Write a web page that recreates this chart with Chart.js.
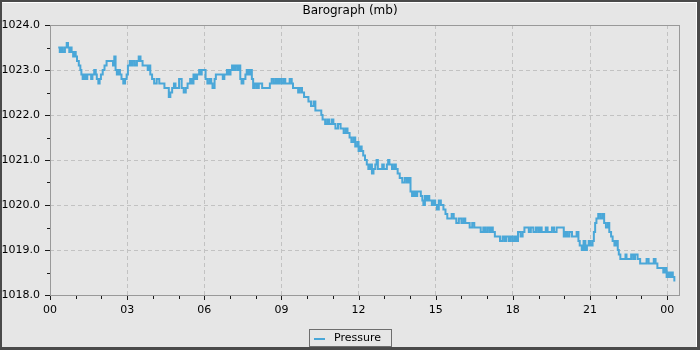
<!DOCTYPE html>
<html>
<head>
<meta charset="utf-8">
<script src="https://cdn.jsdelivr.net/npm/chart.js@4/dist/chart.umd.min.js"></script>
<style>
  html, body { margin: 0; padding: 0; background: #e6e6e6; }
  #wrap { position: relative; width: 700px; height: 350px; background: #e6e6e6; overflow: hidden; }
  #c { position: absolute; left: 0; top: 0; }
  #frame { position: absolute; left: 0; top: 0; width: 700px; height: 350px; box-sizing: border-box;
           border-style: solid; border-color: #4a4a4a; border-width: 2px 3px 3px 2px;
           box-shadow: inset 0 1px 0 #ffffff, inset -1px 0 0 #ffffff; pointer-events: none; }
  #legend { position: absolute; left: 309px; top: 329px; width: 83px; height: 18px; box-sizing: border-box;
            border: 1px solid #6e6e6e; font-family: "DejaVu Sans"; font-size: 11px; color: #000; }
  #legend .swatch { position: absolute; left: 4px; top: 8px; width: 11px; height: 2px; background: #4aa7d8; }
  #legend .lbl { position: absolute; left: 24px; top: 0; line-height: 16px; }
</style>
</head>
<body>
<div id="wrap">
  <canvas id="c" width="700" height="350"></canvas>
  <div id="legend"><span class="swatch"></span><span class="lbl">Pressure</span></div>
  <div id="frame"></div>
</div>
<script>
// ---- data (hours since 00, pressure in mb) ----
const hours = [
0.32,0.38,0.45,0.5,0.58,0.65,0.7,0.75,0.8,0.84,0.9,0.95,1.0,1.05,1.12,1.18,1.22,1.27,1.32,1.38,1.45,1.55,1.6,1.65,1.72,1.78,1.82,1.88,1.93,1.98,
2.05,2.12,2.2,2.35,2.45,2.5,2.55,2.6,2.65,2.72,2.78,2.85,2.92,2.98,3.03,3.1,3.15,3.22,3.3,3.38,3.45,3.52,3.6,3.7,3.8,3.85,3.9,3.97,
4.05,4.15,4.25,4.35,4.45,4.55,4.62,4.68,4.75,4.82,4.88,4.95,5.02,5.12,5.2,5.28,5.35,5.45,5.52,5.58,5.65,5.72,5.8,5.85,5.9,5.98,
6.05,6.12,6.2,6.27,6.32,6.4,6.45,6.55,6.65,6.72,6.78,6.88,6.95,7.02,7.08,7.15,7.22,7.3,7.35,7.4,7.45,7.52,7.6,7.65,7.72,7.78,7.85,7.9,7.97,
8.05,8.12,8.2,8.25,8.32,8.4,8.5,8.55,8.62,8.7,8.78,8.85,8.92,9.0,9.08,9.15,9.25,9.32,9.4,9.45,9.55,9.65,9.72,9.8,9.88,9.97,
10.05,10.15,10.25,10.32,10.45,10.55,10.6,10.7,10.78,10.85,10.95,11.02,11.1,11.2,11.3,11.42,11.5,11.57,11.65,11.72,11.8,11.87,11.95,
12.0,12.05,12.12,12.18,12.25,12.32,12.38,12.45,12.52,12.58,12.65,12.7,12.75,12.85,12.92,12.98,13.05,13.1,13.15,13.2,13.3,13.38,13.45,13.52,13.6,13.7,13.8,13.88,13.95,
14.02,14.08,14.15,14.22,14.28,14.35,14.42,14.48,14.52,14.58,14.62,14.68,14.75,14.85,14.92,14.98,15.05,15.12,15.2,15.3,15.38,15.45,15.55,15.62,15.7,15.8,15.9,
16.0,16.08,16.15,16.25,16.32,16.42,16.5,16.6,16.68,16.75,16.85,16.92,17.0,17.08,17.15,17.22,17.3,17.4,17.5,17.6,17.68,17.75,17.85,17.92,
18.0,18.08,18.15,18.2,18.3,18.38,18.45,18.55,18.62,18.7,18.8,18.9,18.98,19.05,19.12,19.2,19.28,19.35,19.45,19.52,19.6,19.7,19.8,19.9,19.98,
20.05,20.12,20.2,20.3,20.4,20.48,20.55,20.6,20.68,20.75,20.82,20.88,20.95,21.02,21.1,21.15,21.2,21.25,21.32,21.4,21.48,21.55,21.62,21.7,21.75,21.82,21.88,21.95,
22.02,22.08,22.12,22.18,22.3,22.38,22.42,22.5,22.6,22.68,22.75,22.85,22.95,23.1,23.2,23.28,23.4,23.48,23.55,23.62,23.75,23.85,23.92,23.98,
24.05,24.12,24.18,24.22,24.28
];
const pressure = [
1023.5,1023.4,1023.5,1023.4,1023.5,1023.6,1023.5,1023.4,1023.5,1023.4,1023.3,1023.4,1023.3,1023.2,1023.1,1023.0,1022.9,1022.8,1022.9,1022.8,1022.9,1022.9,1022.8,1022.9,1023.0,1022.9,1022.8,1022.7,1022.8,1022.9,
1023.0,1023.1,1023.2,1023.2,1023.1,1023.3,1023.0,1022.9,1023.0,1022.9,1022.8,1022.7,1022.8,1022.9,1023.1,1023.2,1023.1,1023.2,1023.1,1023.2,1023.3,1023.2,1023.1,1023.1,1023.0,1023.1,1022.9,1022.8,
1022.7,1022.8,1022.7,1022.7,1022.6,1022.6,1022.4,1022.5,1022.6,1022.7,1022.6,1022.6,1022.8,1022.6,1022.5,1022.6,1022.7,1022.8,1022.7,1022.9,1022.8,1022.9,1023.0,1022.9,1023.0,1023.0,
1022.8,1022.7,1022.8,1022.7,1022.6,1022.8,1022.9,1022.9,1022.9,1022.8,1022.9,1023.0,1022.9,1023.0,1023.1,1023.0,1023.1,1023.0,1023.1,1022.8,1022.7,1022.8,1022.9,1023.0,1022.9,1023.0,1022.8,1022.6,1022.7,
1022.6,1022.7,1022.7,1022.6,1022.6,1022.6,1022.6,1022.7,1022.8,1022.7,1022.8,1022.7,1022.8,1022.7,1022.8,1022.7,1022.7,1022.8,1022.7,1022.6,1022.6,1022.5,1022.6,1022.5,1022.4,1022.4,
1022.3,1022.2,1022.3,1022.1,1022.1,1022.0,1021.9,1021.8,1021.9,1021.8,1021.9,1021.8,1021.7,1021.8,1021.7,1021.6,1021.7,1021.6,1021.5,1021.4,1021.5,1021.3,1021.4,
1021.2,1021.3,1021.2,1021.1,1021.0,1020.9,1020.8,1020.9,1020.7,1020.8,1020.9,1021.0,1020.8,1020.8,1020.9,1020.8,1020.8,1020.9,1021.0,1020.9,1020.8,1020.9,1020.8,1020.7,1020.6,1020.5,1020.6,1020.5,1020.6,
1020.3,1020.2,1020.3,1020.2,1020.3,1020.3,1020.2,1020.1,1020.0,1020.2,1020.1,1020.2,1020.1,1020.0,1020.1,1020.0,1019.9,1020.1,1020.0,1019.9,1019.8,1019.7,1019.7,1019.8,1019.7,1019.6,1019.7,
1019.6,1019.7,1019.6,1019.6,1019.5,1019.6,1019.5,1019.5,1019.5,1019.4,1019.5,1019.4,1019.5,1019.4,1019.5,1019.4,1019.3,1019.3,1019.2,1019.3,1019.2,1019.3,1019.2,1019.3,
1019.2,1019.3,1019.2,1019.4,1019.3,1019.4,1019.5,1019.5,1019.4,1019.5,1019.4,1019.5,1019.4,1019.5,1019.4,1019.4,1019.5,1019.4,1019.4,1019.5,1019.4,1019.5,1019.5,1019.5,1019.3,
1019.4,1019.3,1019.4,1019.3,1019.3,1019.4,1019.2,1019.1,1019.0,1019.2,1019.0,1019.1,1019.2,1019.1,1019.2,1019.4,1019.6,1019.7,1019.8,1019.7,1019.8,1019.6,1019.5,1019.6,1019.4,1019.3,1019.2,1019.1,
1019.2,1019.0,1018.9,1018.8,1018.8,1018.9,1018.8,1018.8,1018.9,1018.8,1018.9,1018.8,1018.7,1018.7,1018.8,1018.7,1018.7,1018.8,1018.7,1018.6,1018.6,1018.5,1018.6,1018.4,
1018.5,1018.4,1018.5,1018.4,1018.3
];
const hourTicks = [0,1,2,3,4,5,6,7,8,9,10,11,12,13,14,15,16,17,18,19,20,21,22,23,24];
const pressureTicks = [1018,1018.5,1019,1019.5,1020,1020.5,1021,1021.5,1022,1022.5,1023,1023.5,1024];
const seriesName = 'Pressure';
const chartTitle = 'Barograph (mb)';

const LINE = '#4aa7d8';
const FONT = { family: 'DejaVu Sans', size: 11 };

const decor = {
  id: 'decor',
  beforeDatasetsDraw(chart) {
    const { ctx, chartArea: a, scales } = chart;
    ctx.save();
    ctx.strokeStyle = '#999999';
    ctx.lineWidth = 1;
    ctx.strokeRect(Math.round(a.left) + 0.5, Math.round(a.top) + 0.5,
                   Math.round(a.right - a.left) - 1, Math.round(a.bottom - a.top));
    ctx.strokeStyle = '#1a1a1a';
    ctx.beginPath();
    scales.x.ticks.forEach(t => {
      const px = Math.round(scales.x.getPixelForValue(t.value)) + 0.5;
      const len = t.value % 3 === 0 ? 4 : 3;
      ctx.moveTo(px, a.bottom + 1);
      ctx.lineTo(px, a.bottom + 1 + len);
    });
    scales.y.ticks.forEach(t => {
      const py = Math.round(scales.y.getPixelForValue(t.value)) + 0.5;
      const len = Number.isInteger(t.value) ? 5 : 3;
      ctx.moveTo(a.left, py);
      ctx.lineTo(a.left - len, py);
    });
    ctx.stroke();
    ctx.restore();
  }
};

new Chart(document.getElementById('c'), {
  type: 'line',
  data: {
    datasets: [{
      label: seriesName,
      data: hours.map((h, i) => ({ x: h, y: pressure[i] })),
      borderColor: LINE,
      backgroundColor: LINE,
      borderWidth: 2,
      pointRadius: 0,
      stepped: true,
      fill: false
    }]
  },
  options: {
    responsive: false,
    animation: false,
    events: [],
    layout: { padding: { left: 0, right: 0, top: 0, bottom: 0 } },
    plugins: {
      legend: { display: false },
      tooltip: { enabled: false },
      title: {
        display: true,
        text: chartTitle,
        color: '#000',
        font: { family: 'DejaVu Sans', size: 12, weight: 'normal' },
        padding: { top: 4, bottom: 6.6 }
      }
    },
    scales: {
      x: {
        type: 'linear',
        min: 0,
        max: 24.5,
        afterBuildTicks: s => { s.ticks = hourTicks.map(v => ({ value: v })); },
        afterFit: s => { s.height = 55; },
        ticks: {
          autoSkip: false,
          maxRotation: 0,
          color: '#000',
          font: FONT,
          padding: 9,
          callback: v => (v % 3 === 0 ? String(v % 24).padStart(2, '0') : '')
        },
        grid: {
          drawTicks: false,
          lineWidth: 1,
          color: c => (c.tick && c.tick.value % 3 === 0 && c.tick.value > 0) ? '#c2c2c2' : 'rgba(0,0,0,0)'
        },
        border: { display: false, dash: [4, 3] }
      },
      y: {
        min: 1018,
        max: 1024,
        afterBuildTicks: s => { s.ticks = pressureTicks.map(v => ({ value: v })); },
        afterFit: s => { s.width = 50; },
        ticks: {
          autoSkip: false,
          color: '#000',
          font: FONT,
          padding: 10,
          callback: v => (Number.isInteger(v) ? v.toFixed(1) : '')
        },
        grid: {
          drawTicks: false,
          lineWidth: 1,
          color: c => (c.tick && Number.isInteger(c.tick.value) && c.tick.value > 1018 && c.tick.value < 1024) ? '#c2c2c2' : 'rgba(0,0,0,0)'
        },
        border: { display: false, dash: [4, 3] }
      },
      yRight: {
        position: 'right',
        min: 1018,
        max: 1024,
        afterFit: s => { s.width = 20; },
        ticks: { display: false },
        grid: { display: false, drawOnChartArea: false, drawTicks: false },
        border: { display: false }
      }
    }
  },
  plugins: [decor]
});
</script>
</body>
</html>
